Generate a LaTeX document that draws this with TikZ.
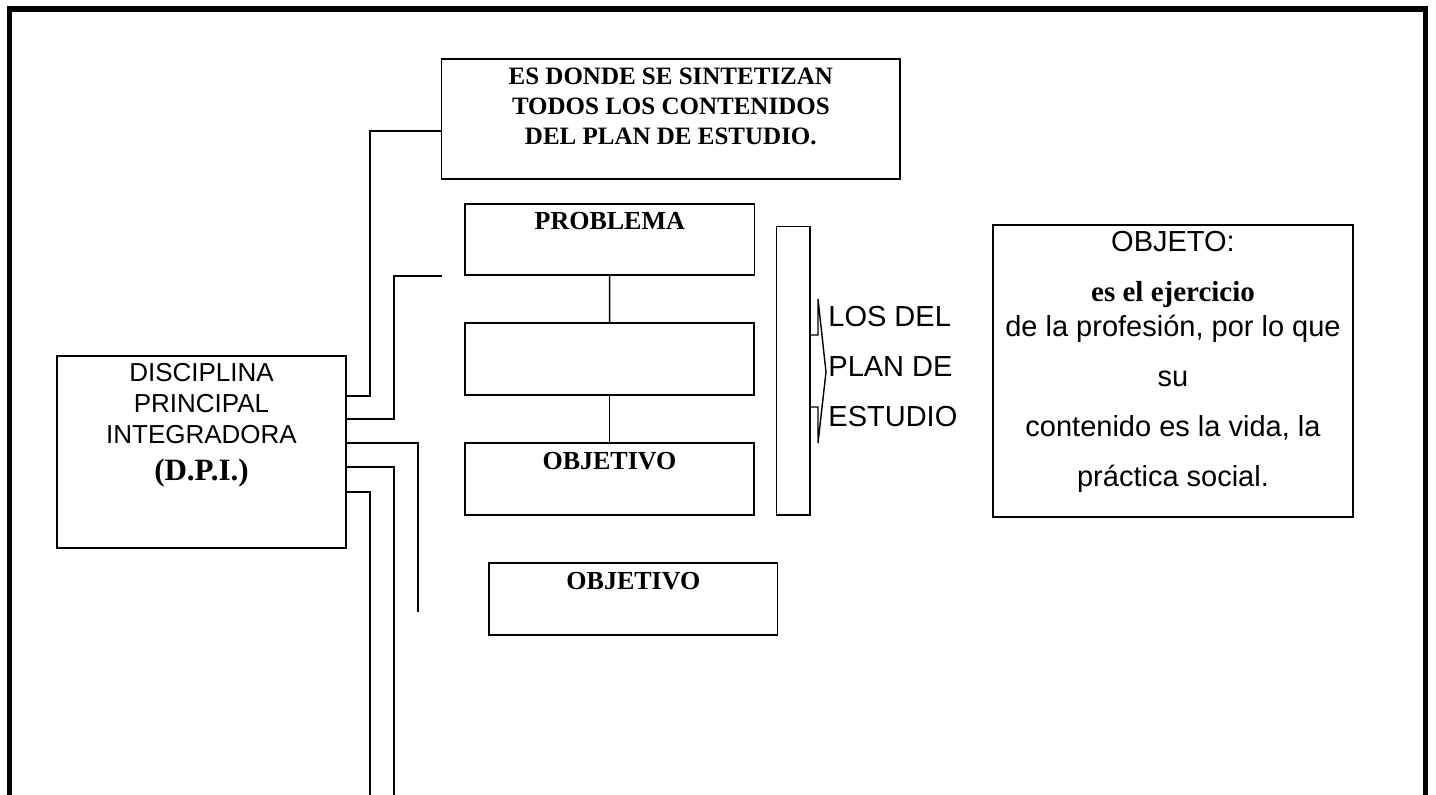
\documentclass[tikz,border=0pt]{standalone}
\usepackage{fontspec}
\setmainfont{Liberation Serif}
\newfontfamily\arialfont{Liberation Sans}
\usepackage{tikz}

\begin{document}
\begin{tikzpicture}
        [x=0.5pt, y=-0.5pt,
    box/.style={draw, line width=0.75pt, inner sep=0pt},
    bold text/.style={font=\bfseries\fontsize{12.5pt}{15pt}\selectfont, inner sep=0pt},
    arial text/.style={font=\arialfont\fontsize{14.5pt}{25pt}\selectfont, inner sep=0pt},
    link/.style={line width=0.7pt}]
    \useasboundingbox (0,0) rectangle (1436,795);
    \draw[line width=2.8pt] (9.5,795) -- (9.5,8.8) -- (1425.5,8.8) -- (1425.5,795);

    \node[box, minimum width=229.2pt, minimum height=60pt] (top) at (670.85,119) {};
    \node[bold text, align=center] (toptext) at (top.center |- 0,106.75)
        {ES DONDE SE SINTETIZAN\\TODOS LOS CONTENIDOS\\DEL PLAN DE ESTUDIO.};

    \node[box, minimum width=144.75pt, minimum height=35.5pt] (prob) at (609.75,239.5) {};
    \node[bold text, anchor=base, font=\bfseries\fontsize{13pt}{15pt}\selectfont] (probtext) at (prob.center |- 0,230) {PROBLEMA};
    \node[box, minimum width=144.5pt, minimum height=36pt] (mid) at (609.5,359) {};
    \node[box, minimum width=144.5pt, minimum height=36pt] (obj1) at (609.5,479) {};
    \node[bold text, anchor=base, font=\bfseries\fontsize{13pt}{15pt}\selectfont] (obj1text) at (obj1.center |- 0,470) {OBJETIVO};
    \node[box, minimum width=144.35pt, minimum height=36pt] (obj2) at (633.35,599) {};
    \node[bold text, anchor=base, font=\bfseries\fontsize{13pt}{15pt}\selectfont] (obj2text) at (obj2.center |- 0,590) {OBJETIVO};
    \draw[link] (prob) -- (mid);
    \draw[link] (mid) -- (obj1);

    \node[box, minimum width=16.65pt, minimum height=144.15pt] (col) at (793.35,370.85) {};
    \draw[link] (col.east |- 0,335) -- (818,335) -- (818,299) -- (826,372)
        -- (818,443) -- (818,407) -- (col.east |- 0,407);
    \node[arial text, align=left, anchor=north west] (los) at (828,305.5) {LOS DEL\\PLAN DE\\ESTUDIO};

    \node[box, minimum width=180pt, minimum height=146pt] (objeto) at (1173,371) {};
    \node[arial text, align=center] (objetotext) at (objeto.center |- 0,362)
        {OBJETO:\\{\rmfamily\bfseries\fontsize{14.5pt}{16pt}\selectfont es el ejercicio}\\[-7.5pt]de la profesión, por lo que\\su\\contenido es la vida, la\\práctica social.};

    \node[box, minimum width=144.5pt, minimum height=96pt] (dpi) at (201.5,452) {};
    \node[align=center, inner sep=0pt, font=\arialfont\fontsize{13pt}{15.5pt}\selectfont] (dpitext) at (dpi.center |- 0,425)
        {DISCIPLINA\\PRINCIPAL\\INTEGRADORA\\[3pt]{\rmfamily\bfseries\fontsize{15.5pt}{15.5pt}\selectfont (D.P.I.)}};

    \coordinate (end2) at (442,276);
    \coordinate (end3) at (418,612);
    \coordinate (end4) at (394,795);
    \coordinate (end5) at (370,795);
    \draw[link] (dpi.east |- 0,396) -| (370,131) -- (top.west |- 0,131);
    \draw[link] (dpi.east |- 0,419) -| (394,276) -- (end2);
    \draw[link] (dpi.east |- 0,443) -| (end3);
    \draw[link] (dpi.east |- 0,467) -| (end4);
    \draw[link] (dpi.east |- 0,492) -| (end5);
\end{tikzpicture}
\end{document}
